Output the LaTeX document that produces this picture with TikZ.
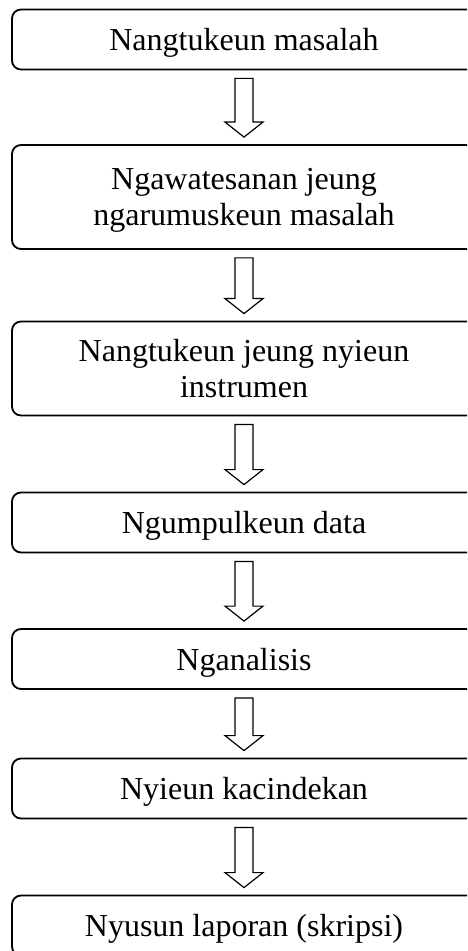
\documentclass[tikz,border=0pt]{standalone}
\usepackage{fontspec}
\setmainfont{Liberation Serif}
\usetikzlibrary{calc}
\def\darrow{\draw[blockarrow]}

\begin{document}
\begin{tikzpicture}[x=0.5pt,y=-0.5pt,
        stepbox/.style={draw,line width=0.9pt,rounded corners=4.5pt,fill=white,
            minimum width=232pt,minimum height=30pt,inner sep=2pt,align=center,
            text depth=0pt,font=\fontsize{16}{18.2}\selectfont},
        blockarrow/.style={line width=0.6pt,fill=white,to path={
            let \p1=(\tikztostart.south), \p2=(\tikztotarget.north) in
            (\x1-4.5pt,\y1-4pt) -- (\x1+4.5pt,\y1-4pt) -- (\x1+4.5pt,\y2+11pt)
            -- (\x1+9.5pt,\y2+11pt) -- (\x1,\y2+3.5pt) -- (\x1-9.5pt,\y2+11pt)
            -- (\x1-4.5pt,\y2+11pt) -- cycle}}]
                \useasboundingbox (0,0) rectangle (467,951);
                \clip (0,0) rectangle (467,951);
                \node[stepbox] (masalah) at (244,39.5) {Nangtukeun masalah};
                \node[stepbox,minimum height=52pt] (rumus) at (244,197) {Ngawatesanan jeung\\ngarumuskeun masalah};
                \node[stepbox,minimum height=47pt] (instrumen) at (244,368.5) {Nangtukeun jeung nyieun\\instrumen};
                \node[stepbox] (data) at (244,522.5) {Ngumpulkeun data};
                \node[stepbox] (analisis) at (244,659) {Nganalisis};
                \node[stepbox] (kacindekan) at (244,788.5) {Nyieun kacindekan};
                \node[stepbox] (laporan) at (244,925.5) {Nyusun laporan (skripsi)};
                \darrow (masalah) to (rumus);
                \darrow (rumus) to (instrumen);
                \darrow (instrumen) to (data);
                \darrow (data) to (analisis);
                \darrow (analisis) to (kacindekan);
                \darrow (kacindekan) to (laporan);
            \end{tikzpicture}
\end{document}
